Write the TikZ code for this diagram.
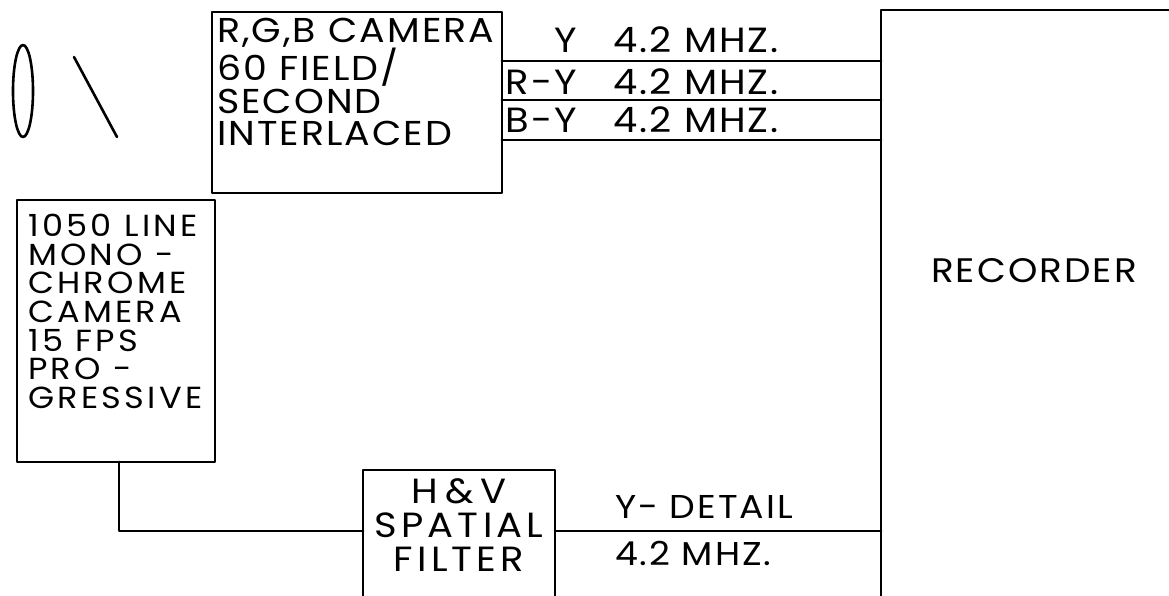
\documentclass[tikz,border=0pt]{standalone}
\usepackage{fontspec}
\setmainfont{Poppins}[LetterSpace=6, FakeStretch=1.1]
\usetikzlibrary{positioning}
\begin{document}
\begin{tikzpicture}[x=1pt, y=-1pt, line width=2.9pt, line join=round, line cap=round,
		box/.style={draw, rectangle, inner sep=0pt, outer sep=0pt, anchor=north west},
		txt/.style={inner sep=0pt, outer sep=0pt, align=left}]
	\useasboundingbox (0,0) rectangle (1169,596);
	\clip (0,0) rectangle (1169,596);
	% lens
	\draw[line width=2.6pt] (23,91) ellipse [x radius=10pt, y radius=46pt];
	\draw[line width=2.6pt] (74,57)--(117,137);
	% blocks
	\node[box, minimum width=290pt, minimum height=181pt] (rgb) at (212,12) {};
	\node[box, minimum width=198pt, minimum height=262pt] (mono) at (17,200) {};
	\node[box, minimum width=192pt, minimum height=200pt] (filt) at (363,470) {};
	\node[box, minimum width=400pt, minimum height=700pt] (rec) at (881,10) {};
	\node[txt, anchor=north west, font=\fontsize{34.5}{32.3}\selectfont] (rgbtxt) at (217,18) {R,G,B CAMERA\\60 FIELD/\\SECOND\\INTERLACED};
	\node[txt, anchor=north west, font=\fontsize{30.5}{28.7}\selectfont\addfontfeature{LetterSpace=11}] (monotxt) at (28,214) {1050 LINE\\MONO -\\CHROME\\CAMERA\\15 FPS\\PRO -\\GRESSIVE};
	\node[txt, align=center, anchor=north, font=\fontsize{35}{34}\selectfont\addfontfeature{LetterSpace=12}] (filttxt) at (459,479) {{\addfontfeature{LetterSpace=0}H\kern7pt\&\kern7pt V}\\SPATIAL\\FILTER};
	\node[txt, anchor=base, font=\fontsize{34}{34}\selectfont] (rectxt) at (1034,282) {RECORDER};
	% R,G,B signals
	\foreach \y/\b/\s [count=\i] in {61/53/Y, 100/95/R-Y, 140/133/B-Y}{
		\draw (rgb.east |- 0,\y)--(rec.west |- 0,\y);
		\node[txt, anchor=base east, font=\fontsize{35}{36}\selectfont] (sig\i) at (577,\b) {\s};
		\node[txt, anchor=base west, font=\fontsize{35}{36}\selectfont] (bw\i) at (613,\b) {4.2 MHZ.};
	}
	% detail path
	\draw ([xshift=3pt]mono.south) |- (filt.west |- 0,531);
	\draw (filt.east |- 0,531)--(rec.west |- 0,531);
	\node[txt, anchor=base west, font=\fontsize{33}{34}\selectfont] (ydet) at (615,518) {Y- DETAIL};
	\node[txt, anchor=base west, font=\fontsize{33}{34}\selectfont] (ybw) at (615,565) {4.2 MHZ.};
\end{tikzpicture}
\end{document}
